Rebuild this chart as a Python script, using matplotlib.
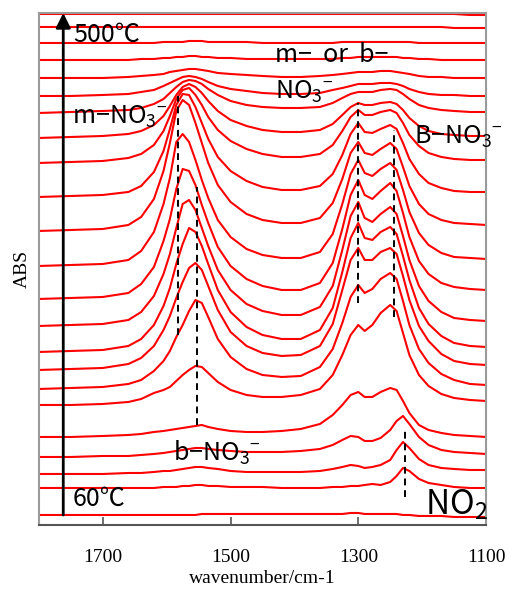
import matplotlib
matplotlib.use("Agg")
import matplotlib.pyplot as plt

plt.rcParams['mathtext.fontset'] = 'custom'
plt.rcParams['mathtext.rm'] = 'Noto Sans CJK JP'
plt.rcParams['mathtext.it'] = 'Noto Sans CJK JP'
plt.rcParams['mathtext.bf'] = 'Noto Sans CJK JP'

# wavenumber grid (cm-1) the spectra were read at
wavenumber = [1800, 1750, 1700, 1660, 1640, 1620, 1605, 1595, 1585, 1575,
              1565, 1555, 1545, 1535, 1520, 1500, 1475, 1450, 1420, 1390,
              1360, 1340, 1325, 1312, 1300, 1290, 1278, 1265, 1250, 1240,
              1230, 1220, 1205, 1190, 1170, 1150, 1125, 1100]

temps = [60, 80, 100, 120, 140, 160, 180, 200, 220, 240, 260, 280,
         300, 320, 340, 360, 380, 400, 420, 440, 460, 480, 500]

# vertical offset of each trace (stacking)
offsets = [10, 37, 51, 68, 88, 120, 136, 155, 173, 199, 226, 259,
           294, 328, 362, 387, 412, 429, 447, 465, 482, 498, 511]

# absorbance above each trace's offset, one row per temperature
absorbance = [
    [0, 0, 0, 0, 0, 0, 0, 0, 0, 0, 0, 0, 1, 1, 1, 1, 1, 1, 1, 1, 1, 1, 1, 2, 2, 1, 1, 1, 1, 1, 0, 0, -1, -1, -1, -2, -2, -2],
    [0, 0, 0, 0, 0, 0, 1, 1, 1, 2, 2, 3, 3, 2, 2, 1, 1, 1, 0, 0, 0, 1, 1, 2, 2, 3, 4, 3, 6, 12, 20, 17, 9, 5, 3, 1, 0, 0],
    [0, 0, 0, 1, 1, 2, 3, 3, 4, 5, 6, 7, 7, 6, 5, 3, 2, 2, 2, 2, 3, 5, 7, 9, 8, 6, 7, 9, 14, 24, 32, 26, 15, 9, 6, 5, 4, 4],
    [0, 0, 1, 1, 2, 3, 4, 5, 6, 7, 8, 9, 9, 8, 7, 6, 5, 5, 5, 6, 8, 12, 17, 21, 20, 16, 16, 19, 27, 36, 41, 33, 20, 12, 7, 5, 4, 3],
    [0, 0, 1, 2, 3, 5, 6, 7, 8, 9, 10, 11, 12, 10, 8, 6, 5, 5, 6, 8, 13, 22, 32, 42, 45, 40, 40, 45, 49, 47, 36, 24, 12, 7, 4, 2, 1, 0],
    [0, 0, 1, 3, 6, 12, 15, 18, 24, 30, 35, 39, 38, 32, 23, 15, 10, 8, 8, 10, 16, 30, 50, 70, 80, 74, 80, 92, 100, 94, 72, 50, 30, 19, 11, 7, 5, 4],
    [0, 1, 2, 5, 9, 18, 28, 38, 52, 64, 78, 89, 86, 72, 50, 32, 20, 14, 12, 13, 22, 40, 66, 92, 104, 96, 100, 110, 116, 110, 88, 64, 40, 26, 15, 9, 5, 4],
    [0, 1, 2, 6, 12, 24, 40, 54, 72, 88, 102, 107, 100, 84, 60, 38, 24, 17, 14, 15, 24, 46, 80, 110, 122, 110, 110, 118, 122, 116, 94, 70, 44, 29, 16, 9, 6, 5],
    [0, 1, 2, 6, 13, 27, 46, 64, 88, 108, 124, 120, 106, 88, 62, 40, 25, 17, 13, 13, 22, 44, 80, 114, 129, 114, 112, 120, 125, 118, 96, 72, 44, 28, 16, 9, 6, 5],
    [0, 1, 2, 6, 14, 30, 52, 72, 98, 122, 126, 116, 98, 80, 56, 36, 22, 15, 11, 11, 19, 40, 76, 110, 124, 108, 104, 112, 119, 112, 90, 66, 40, 25, 14, 8, 6, 5],
    [0, 1, 2, 6, 15, 32, 58, 80, 110, 130, 128, 114, 94, 76, 52, 33, 20, 13, 9, 9, 16, 36, 70, 104, 119, 104, 100, 108, 116, 108, 86, 62, 38, 25, 16, 12, 10, 9],
    [0, 1, 2, 6, 15, 34, 62, 88, 124, 132, 124, 106, 86, 68, 46, 29, 17, 11, 8, 8, 14, 32, 62, 92, 106, 93, 90, 97, 103, 96, 76, 54, 33, 21, 13, 9, 8, 7],
    [0, 1, 2, 6, 14, 32, 60, 88, 120, 131, 126, 108, 88, 68, 46, 29, 17, 11, 8, 8, 13, 28, 52, 78, 89, 78, 76, 82, 88, 82, 64, 45, 27, 17, 11, 8, 7, 6],
    [0, 1, 2, 5, 11, 25, 46, 68, 92, 103, 102, 90, 74, 58, 40, 26, 16, 10, 7, 7, 11, 23, 42, 63, 74, 65, 64, 68, 72, 68, 54, 38, 23, 14, 9, 6, 5, 5],
    [0, 1, 2, 5, 9, 18, 32, 47, 64, 73, 75, 68, 58, 46, 33, 22, 14, 9, 6, 6, 9, 18, 32, 46, 53, 48, 48, 51, 53, 50, 40, 28, 17, 10, 6, 4, 3, 3],
    [0, 1, 2, 4, 7, 13, 22, 32, 43, 51, 54, 51, 45, 37, 27, 18, 12, 8, 6, 6, 8, 14, 23, 31, 35, 33, 33, 35, 36, 34, 28, 20, 12, 7, 4, 3, 2, 2],
    [0, 1, 2, 3, 5, 9, 14, 20, 26, 31, 33, 32, 29, 24, 18, 12, 8, 6, 5, 5, 6, 10, 15, 19, 21, 21, 21, 23, 24, 23, 19, 14, 8, 5, 3, 2, 1, 1],
    [0, 0, 1, 2, 4, 6, 10, 13, 16, 19, 20, 19, 17, 14, 10, 7, 5, 3, 2, 2, 3, 6, 8, 10, 12, 12, 12, 13, 13, 12, 10, 7, 4, 2, 1, 1, 0, 0],
    [0, 0, 0, 1, 2, 3, 4, 6, 7, 8, 9, 9, 8, 7, 5, 4, 3, 2, 1, 1, 2, 3, 4, 5, 6, 6, 6, 7, 7, 6, 5, 4, 2, 1, 1, 0, 0, 0],
    [0, 0, 0, 0, 1, 1, 2, 2, 3, 3, 4, 4, 3, 3, 2, 2, 1, 1, 1, 1, 1, 1, 2, 2, 3, 3, 3, 3, 3, 3, 2, 2, 1, 1, 0, 0, 0, 0],
    [0, 0, 0, 0, 0, 0, 1, 1, 1, 1, 2, 2, 2, 1, 1, 1, 1, 0, 0, 0, 0, 0, 1, 1, 1, 1, 1, 1, 1, 1, 1, 1, 0, 0, 0, 0, 0, 0],
    [0, 0, 0, 0, 0, 0, 0, 0, 0, 0, 0, 0, 0, 0, 0, 0, 0, 0, 0, 0, 0, 0, 0, 0, 0, 0, 0, 0, 0, 0, 0, 0, 0, 0, 0, -1, -1, -1],
    [0, 0, 0, 0, 0, 0, 0, 0, 0, 0, 0, 0, 0, 0, 0, 0, 0, 0, 0, 0, 0, 0, 0, 0, 0, 0, 0, 0, 0, 0, 0, 0, 0, 0, 0, 0, -1, -1],
]

# band markers: (wavenumber, y from, y to)
markers = [(1583, 190, 429), (1552, 100, 338), (1300, 222, 422),
           (1244, 208, 395), (1227, 28, 95)]

jp = ['Noto Sans CJK JP', 'DejaVu Sans']

fig = plt.figure(figsize=(5.15, 5.90), dpi=100)
ax = fig.add_axes([0.0757, 0.1102, 0.8680, 0.8678])

for off, row in zip(offsets, absorbance):
    ax.plot(wavenumber, [off + v for v in row], color='#ff0000', lw=1.5, zorder=2)

for wn, y0, y1 in markers:
    ax.plot([wn, wn], [y0, y1], color='black', lw=1.4, ls=(0, (3.5, 2.5)), zorder=3)

ax.set_xlim(1800, 1100)
ax.set_ylim(0, 512)
ax.set_xticks([1700, 1500, 1300, 1100])
ax.set_yticks([])
ax.tick_params(axis='x', direction='in', length=6, width=1.2, color='#555555',
               pad=17, labelsize=14)
for lab in ax.get_xticklabels():
    lab.set_family('Liberation Serif')
for side in ['left', 'right', 'top']:
    ax.spines[side].set_color('#9a9a9a')
    ax.spines[side].set_linewidth(1.5)
ax.spines['bottom'].set_color('#555555')
ax.spines['bottom'].set_linewidth(1.5)

ax.set_xlabel('wavenumber/cm-1', family='Liberation Serif', fontsize=14, labelpad=3)
ax.set_ylabel('ABS', family='Liberation Serif', fontsize=14, labelpad=6)

# temperature arrow
ax.annotate('', xy=(1762, 512), xytext=(1762, 10),
            arrowprops=dict(arrowstyle='-|>', color='black', lw=2, mutation_scale=22,
                            shrinkA=0, shrinkB=0), zorder=4)
ax.text(1747, 490, '500℃', family=jp, fontsize=18, va='center', ha='left')
ax.text(1747, 26, '60℃', family=jp, fontsize=18, va='center', ha='left')

# band labels
ax.text(1748, 408, 'm−NO$_3$$^{-}$', family=jp, fontsize=18, va='center', ha='left')
ax.text(1430, 470, 'm−  or  b−', family=jp, fontsize=18, va='center', ha='left')
ax.text(1430, 433, 'NO$_3$$^{-}$', family=jp, fontsize=18, va='center', ha='left')
ax.text(1213, 388, 'B−NO$_3$$^{-}$', family=jp, fontsize=18, va='center', ha='left')
ax.text(1590, 72, 'b−NO$_3$$^{-}$', family=jp, fontsize=18, va='center', ha='left')
ax.text(1196, 20, 'NO$_2$', family=jp, fontsize=24, va='center', ha='left')

fig.savefig('out.png', dpi=100)
